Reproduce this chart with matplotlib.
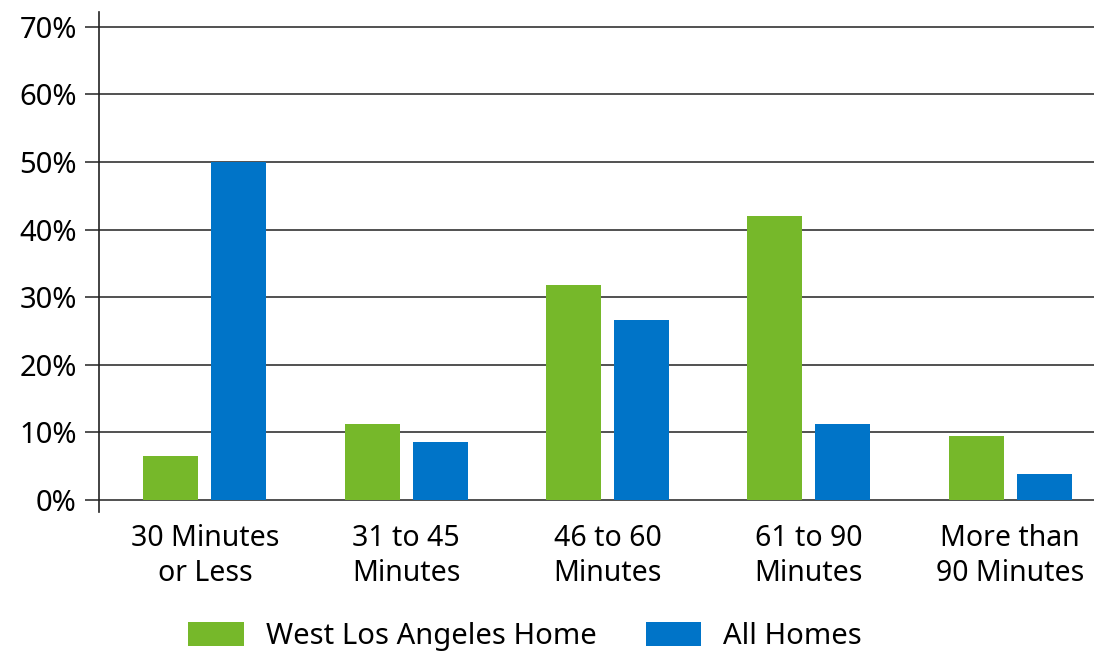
import numpy as np
import matplotlib.pyplot as plt

categories = ["30 Minutes\nor Less", "31 to 45\nMinutes", "46 to 60\nMinutes",
              "61 to 90\nMinutes", "More than\n90 Minutes"]
west_la = [6.5, 11.2, 31.8, 42.0, 9.5]
all_homes = [50.0, 8.6, 26.6, 11.2, 3.8]
yticks = [0, 10, 20, 30, 40, 50, 60, 70]

plt.rcParams['font.family'] = ['Noto Sans', 'DejaVu Sans']

fig = plt.figure(figsize=(10.94, 6.54), dpi=100)
ax = fig.add_axes([99 / 1094, 1 - 512 / 654, 1 - 99 / 1094, 500 / 654])

x = np.arange(len(categories))
w = 0.273
off = 0.169
ax.bar(x - off, west_la, w, color="#76B82A", label="West Los Angeles Home", zorder=3)
ax.bar(x + off, all_homes, w, color="#0074C8", label="All Homes", zorder=3)

ax.set_xlim(-0.526, 4.417)
ax.set_ylim(-1.8, 72.2)
ax.set_yticks(yticks)
ax.set_yticklabels([f"{v}%" for v in yticks], fontsize=21)
ax.set_xticks(x)
ax.set_xticklabels(categories, fontsize=20.5, linespacing=1.25)
ax.tick_params(axis='x', length=0, pad=9)
ax.tick_params(axis='y', length=10, width=1.2, color="#333333", pad=6)
ax.grid(axis='y', color="#222222", linewidth=1.1, zorder=1)
for s in ['top', 'right', 'bottom']:
    ax.spines[s].set_visible(False)
ax.spines['left'].set_linewidth(1.2)
ax.spines['left'].set_color("#222222")

fig.legend(loc='upper center', bbox_to_anchor=(0.48, 1 - 622 / 654), ncol=2,
           frameon=False, fontsize=21, handlelength=1.9, handleheight=0.85,
           handletextpad=0.75, columnspacing=1.7, borderpad=0, borderaxespad=0)

fig.savefig("out.png", dpi=100)
